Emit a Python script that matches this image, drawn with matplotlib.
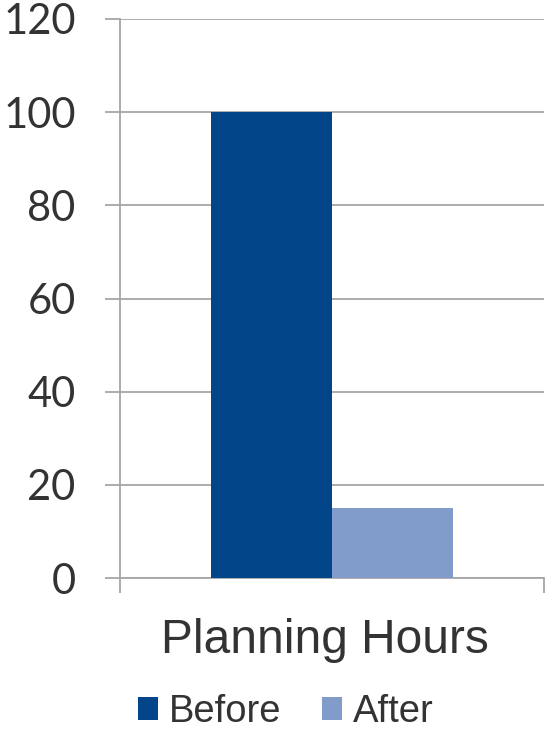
import matplotlib
matplotlib.use("Agg")
import matplotlib.pyplot as plt
from matplotlib.patches import Patch

category = "Planning Hours"
series_names = ["Before", "After"]
series_values = [100, 15]
series_colors = ["#024588", "#819ccb"]
y_ticks = [0, 20, 40, 60, 80, 100, 120]

fig = plt.figure(figsize=(5.49, 7.29), dpi=100)
ax = fig.add_axes([120 / 549, 1 - 578 / 729, 424 / 549, (578 - 19) / 729])

bar_w = 0.286
offsets = [-bar_w / 2, bar_w / 2]
for name, val, col, off in zip(series_names, series_values, series_colors, offsets):
    ax.bar(off, val, width=bar_w, color=col, label=name, zorder=3)

grid_col = "#a6a6a6"
ax.set_xlim(-0.5, 0.5)
ax.set_ylim(0, 120)
ax.set_yticks(y_ticks)
ax.set_yticklabels([str(t) for t in y_ticks], fontfamily="Lato", fontsize=30, color="#333333")
ax.yaxis.grid(True, color=grid_col, linewidth=1.3, zorder=0)
ax.tick_params(axis="y", length=11, width=1.3, color=grid_col, pad=21)

for s in ["top", "right"]:
    ax.spines[s].set_visible(False)
ax.spines["left"].set_color(grid_col)
ax.spines["left"].set_linewidth(1.3)
ax.spines["bottom"].set_color(grid_col)
ax.spines["bottom"].set_linewidth(1.3)

# category label below the axis, boundary ticks on the x axis
ax.set_xticks([])
ax.text(0.483, -0.134, category, transform=ax.transAxes, ha="center", va="baseline",
        fontfamily="Liberation Sans", fontsize=34.5, color="#333333")
ax.set_xticks([-0.5, 0.5], minor=True)
ax.tick_params(axis="x", which="minor", length=11, width=1.3, color=grid_col)

handles = [Patch(facecolor=c, edgecolor="none", label=n) for n, c in zip(series_names, series_colors)]
fig.legend(handles=handles, loc="center", bbox_to_anchor=(286 / 549, 1 - 712 / 729),
           ncol=2, frameon=False, handlelength=0.52, handleheight=0.52,
           handletextpad=0.3, columnspacing=1.05,
           prop={"family": "Liberation Sans", "size": 27.5}, labelcolor="#333333")

fig.savefig("out.png", dpi=100)
